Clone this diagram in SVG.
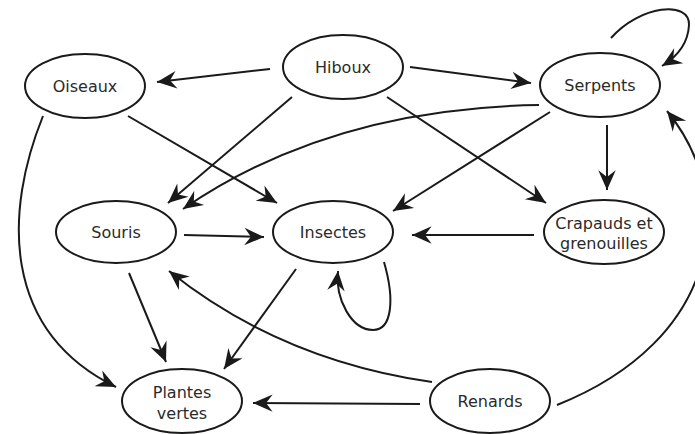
<svg xmlns="http://www.w3.org/2000/svg" width="695" height="434" viewBox="0 0 695 434">
<style>
.node ellipse{fill:#fff;stroke:#1a1a1a;stroke-width:2}
.node text{font-family:"Comic Sans MS","DejaVu Sans",sans-serif;font-size:16px;fill:#2a2a2a;text-anchor:middle}
.edges path{fill:none;stroke:#1a1a1a;stroke-width:2;marker-end:url(#arr)}
</style>
<defs>
<marker id="arr" markerUnits="userSpaceOnUse" markerWidth="24" markerHeight="24" refX="0" refY="0" viewBox="-20 -10 22 20" orient="auto">
<path d="M0,0 L-18,-8 L-12,0 L-18,8 Z" fill="#1a1a1a"/>
</marker>
</defs>
<rect width="695" height="434" fill="#fff"/>
<g class="edges">
<path d="M270,69 L157,82"/>
<path d="M410,67 L531,83"/>
<path d="M292,97 L168,203"/>
<path d="M387,97 L546,203"/>
<path d="M128,116 L277,203"/>
<path d="M43,116 C5,210 0,330 116,387"/>
<path d="M539,105 Q330,108 183,209"/>
<path d="M550,112 L393,211"/>
<path d="M607,125 L607,190"/>
<path d="M611,38 C640,5 690,0 689,25 C688,45 675,58 662,66"/>
<path d="M534,235 L412,235"/>
<path d="M184,235 L264,237"/>
<path d="M129,273 L166,362"/>
<path d="M296,269 L224,369"/>
<path d="M384,262 C395,300 392,330 373,330 C352,330 335,300 338,271"/>
<path d="M420,404 L253,403"/>
<path d="M432,382 Q280,360 169,271"/>
<path d="M557,405 C720,340 740,200 667,111"/>
</g>
<g id="hiboux" class="node"><ellipse cx="343" cy="67" rx="60" ry="32"/><text x="343" y="73">Hiboux</text></g>
<g id="oiseaux" class="node"><ellipse cx="85" cy="86" rx="60" ry="32"/><text x="85" y="92">Oiseaux</text></g>
<g id="serpents" class="node"><ellipse cx="600" cy="85" rx="60" ry="32"/><text x="600" y="91">Serpents</text></g>
<g id="souris" class="node"><ellipse cx="116" cy="232" rx="60" ry="31"/><text x="116" y="238">Souris</text></g>
<g id="insectes" class="node"><ellipse cx="333" cy="232" rx="60" ry="31"/><text x="333" y="238">Insectes</text></g>
<g id="crapauds" class="node"><ellipse cx="604" cy="232" rx="60" ry="32"/><text x="604" y="229">Crapauds et</text><text x="604" y="249">grenouilles</text></g>
<g id="plantes" class="node"><ellipse cx="182" cy="401" rx="60" ry="32"/><text x="182" y="398">Plantes</text><text x="182" y="419">vertes</text></g>
<g id="renards" class="node"><ellipse cx="490" cy="401" rx="60" ry="32"/><text x="490" y="407">Renards</text></g>
</svg>
